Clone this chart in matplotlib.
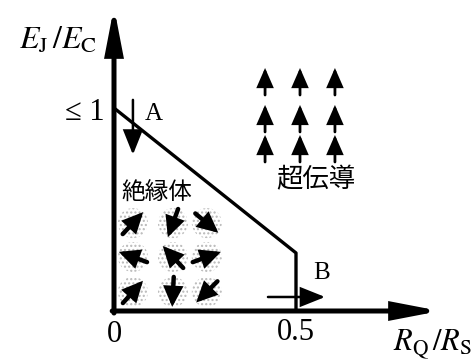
import numpy as np
import matplotlib
matplotlib.use('Agg')
import matplotlib.pyplot as plt
from matplotlib.patches import Ellipse

plt.rcParams['mathtext.fontset'] = 'stix'

# phase boundary (R_Q/R_S, E_J/E_C)
boundary_x = [0.0, 0.5, 0.5]
boundary_y = [1.0, 0.286, 0.0]

# superconducting side: up arrows
sc_cols = [0.415, 0.511, 0.607]
sc_rows = [0.734, 0.882, 1.064]
sc_len = 0.133

# insulating side: 3x3 disordered phases (screen angle, degrees)
ins_cols = [0.052, 0.162, 0.255]
ins_rows = [0.433, 0.266, 0.094]
ins_angles = [[47, 250, -40],
              [160, 133, 20],
              [48, 267, 225]]

# arrows A and B
arrow_a = ((0.052, 1.04), (0.052, 0.77))
arrow_b = ((0.423, 0.069), (0.58, 0.069))

W, H = 471, 364
x0, x1 = -0.3132, 0.9808
y0, y1 = -0.2611, 1.532
sx = W / (x1 - x0)   # px per x unit
sy = H / (y1 - y0)   # px per y unit

fig = plt.figure(figsize=(W / 100, H / 100), dpi=100)
ax = fig.add_axes([0, 0, 1, 1])
ax.set_xlim(x0, x1)
ax.set_ylim(y0, y1)
ax.axis('off')


def arrow(p0, p1, lw, hl, hw, ms=20):
    ax.annotate('', xy=p1, xytext=p0,
                arrowprops=dict(arrowstyle='-|>,head_length=%g,head_width=%g' % (hl, hw),
                                lw=lw, color='black', mutation_scale=ms,
                                shrinkA=0, shrinkB=0, joinstyle='miter'))


# axes
arrow((0, -0.01), (0, 1.4975), 3.6, 1.3, 0.25)
arrow((-0.005, 0), (0.8956, 0), 3.6, 1.3, 0.25)

# boundary
ax.plot(boundary_x, boundary_y, color='black', lw=2.4, solid_capstyle='butt')

# A and B
arrow(arrow_a[0], arrow_a[1], 1.8, 0.75, 0.3)
arrow(arrow_b[0], arrow_b[1], 1.8, 0.75, 0.3)

# superconducting arrows
for cx in sc_cols:
    for ty in sc_rows:
        arrow((cx, ty), (cx, ty + sc_len), 2.0, 0.55, 0.24)

# insulating arrows with speckled disks
r_px = 15
half_px = 15
for j, cy in enumerate(ins_rows):
    for i, cx in enumerate(ins_cols):
        ax.add_patch(Ellipse((cx, cy), 2 * r_px / sx, 2 * r_px / sy,
                             facecolor='white', edgecolor='#b8b8b8', lw=0,
                             hatch='....'))
        a = np.deg2rad(ins_angles[j][i])
        dx = np.cos(a) * half_px / sx
        dy = np.sin(a) * half_px / sy
        arrow((cx - dx, cy - dy), (cx + dx, cy + dy), 3.2, 0.5, 0.24)

# labels
serif = 'Liberation Serif'
ax.text(-0.154, 1.335, r'$E_{\mathrm{J}}\,/E_{\mathrm{C}}$', fontsize=23,
        ha='center', va='center')
ax.text(-0.025, 0.98, '≤ 1', fontsize=22, family=[serif, 'DejaVu Serif'],
        ha='right', va='center')
ax.text(0.11, 0.97, 'A', fontsize=18, family=serif, ha='center', va='center')
ax.text(0.571, 0.187, 'B', fontsize=18, family=serif, ha='center', va='center')
ax.text(0.0, -0.115, '0', fontsize=22, family=serif, ha='center', va='center')
ax.text(0.5, -0.105, '0.5', fontsize=22, family=serif, ha='center', va='center')
ax.text(0.874, -0.167, r'$R_{\mathrm{Q}}\,/R_{\mathrm{S}}$', fontsize=22,
        ha='center', va='center')
ax.text(0.118, 0.581, '絶縁体', fontsize=17, family='Noto Sans CJK JP',
        ha='center', va='center')
ax.text(0.555, 0.645, '超伝導', fontsize=19, family='Noto Sans CJK JP',
        ha='center', va='center')

fig.savefig('out.png', dpi=100)
